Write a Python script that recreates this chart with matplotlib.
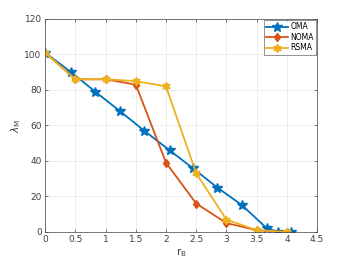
import matplotlib
matplotlib.use("Agg")
import matplotlib.pyplot as plt

# data
x_oma = [0, 0.43, 0.83, 1.24, 1.64, 2.06, 2.44, 2.85, 3.26, 3.67, 3.86, 4.06]
y_oma = [101, 90, 79, 68, 57, 46, 36, 25, 15, 2, 0, 0]

x_other = [0, 0.5, 1, 1.5, 2, 2.5, 3, 3.5, 4]
y_noma = [101, 86, 86, 83, 39, 16, 5, 1, 0]
y_rsma = [101, 86, 86, 85, 82, 33, 7, 1, 0]

c_oma = '#0072BD'
c_noma = '#D95319'
c_rsma = '#EDB120'
ink = '#404040'

plt.rcParams['font.family'] = ['DejaVu Sans']
plt.rcParams['font.size'] = 6.5

fig = plt.figure(figsize=(3.5, 2.63), dpi=100)
ax = fig.add_axes([0.129, 0.118, 0.777, 0.81])

ax.plot(x_oma, y_oma, color=c_oma, lw=1.3, marker='*', ms=7, label='OMA')
ax.plot(x_other, y_noma, color=c_noma, lw=1.3, marker='d', ms=4.5, label='NOMA')
ax.plot(x_other, y_rsma, color=c_rsma, lw=1.3, marker=(6, 1, 0), ms=6, label='RSMA')

ax.set_xlim(0, 4.5)
ax.set_ylim(0, 120)
ax.set_xticks([0, 0.5, 1, 1.5, 2, 2.5, 3, 3.5, 4, 4.5])
ax.set_xticklabels(['0', '0.5', '1', '1.5', '2', '2.5', '3', '3.5', '4', '4.5'])
ax.set_yticks([0, 20, 40, 60, 80, 100, 120])

ax.grid(True, color='#e6e6e6', lw=0.5)
ax.set_axisbelow(True)
ax.tick_params(direction='in', top=True, right=True, length=2.5, width=0.5,
               colors=ink, labelsize=6.5, pad=2.5)
for s in ax.spines.values():
    s.set_color(ink)
    s.set_linewidth(0.5)

ax.set_xlabel(r'r$_\mathrm{B}$', color=ink, fontsize=7.5, labelpad=1)
ax.set_ylabel(r'$\lambda_\mathrm{M}$', color=ink, fontsize=7.5, labelpad=1)

leg = ax.legend(loc='upper right', fontsize=5.5, frameon=True, fancybox=False,
                borderpad=0.3, handlelength=2.8, handletextpad=0.3,
                labelspacing=0.2, borderaxespad=0.15)
leg.get_frame().set_edgecolor(ink)
leg.get_frame().set_linewidth(0.5)

fig.savefig('out.png', dpi=100)
